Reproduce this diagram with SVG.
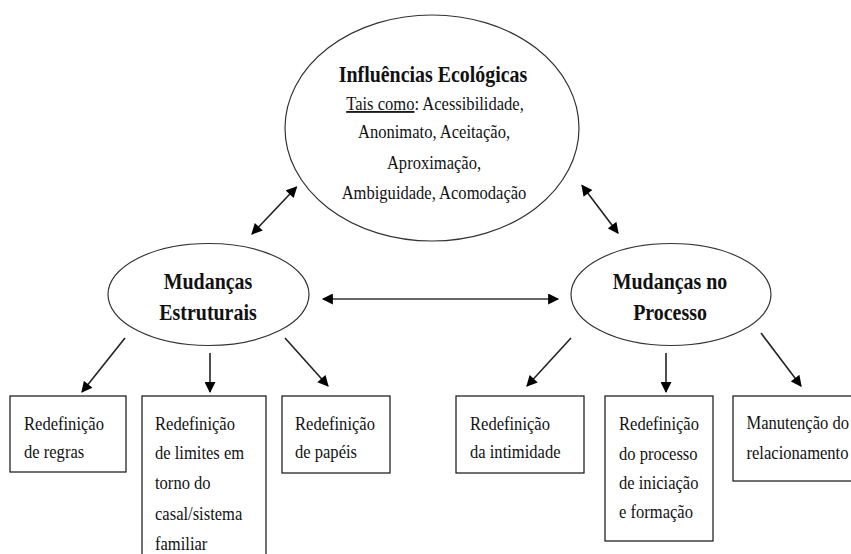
<svg xmlns="http://www.w3.org/2000/svg" width="851" height="554" viewBox="0 0 851 554">
<style>
.node ellipse{fill:#fff;stroke:#333;stroke-width:1.2}
.node rect{fill:#fff;stroke:#111;stroke-width:1.2}
text{font-family:"Liberation Serif","Times New Roman",serif;fill:#111}
.b{font-size:24px;font-weight:bold;text-anchor:middle}
.r{font-size:18px}
.c{text-anchor:middle}
.conn line{stroke:#222;stroke-width:1.6}
.conn line.h{stroke:#666;stroke-width:2.2}
</style>
<defs>
<marker id="ah" viewBox="0 0 10 10" refX="9" refY="5" markerWidth="12" markerHeight="11" markerUnits="userSpaceOnUse" orient="auto-start-reverse">
<path d="M0,0 L10,5 L0,10 z" fill="#000"/>
</marker>
</defs>
<g class="conn">
<line x1="252" y1="234" x2="296.5" y2="187" marker-start="url(#ah)" marker-end="url(#ah)"/>
<line x1="582" y1="185.5" x2="618" y2="233" marker-start="url(#ah)" marker-end="url(#ah)"/>
<line class="h" x1="323" y1="299" x2="558" y2="299" marker-start="url(#ah)" marker-end="url(#ah)"/>
<line x1="125" y1="338" x2="82" y2="392" marker-end="url(#ah)"/>
<line x1="210" y1="353" x2="210" y2="392" marker-end="url(#ah)"/>
<line x1="285" y1="338" x2="328" y2="386" marker-end="url(#ah)"/>
<line x1="571" y1="338" x2="527" y2="386" marker-end="url(#ah)"/>
<line x1="666" y1="353" x2="666" y2="392" marker-end="url(#ah)"/>
<line x1="761" y1="333" x2="801" y2="386" marker-end="url(#ah)"/>
</g>
<g id="influencias" class="node">
<ellipse cx="432" cy="128" rx="147" ry="113"/>
<text class="b" transform="translate(433,82) scale(0.83,1)">Influências Ecológicas</text>
<text class="r c" transform="translate(435,110) scale(0.92,1)"><tspan style="text-decoration:underline">Tais como</tspan>: Acessibilidade,</text>
<text class="r c" transform="translate(434,138) scale(0.92,1)">Anonimato, Aceitação,</text>
<text class="r c" transform="translate(434,169) scale(0.92,1)">Aproximação,</text>
<text class="r c" transform="translate(434,199) scale(0.92,1)">Ambiguidade, Acomodação</text>
</g>
<g id="estruturais" class="node">
<ellipse cx="208.5" cy="294.5" rx="100.5" ry="51"/>
<text class="b" transform="translate(208,289) scale(0.83,1)">Mudanças</text>
<text class="b" transform="translate(208,320) scale(0.83,1)">Estruturais</text>
</g>
<g id="processo" class="node">
<ellipse cx="671" cy="294.5" rx="100" ry="51"/>
<text class="b" transform="translate(670,289) scale(0.83,1)">Mudanças no</text>
<text class="b" transform="translate(670,320) scale(0.83,1)">Processo</text>
</g>
<g id="regras" class="node">
<rect x="10" y="396" width="116" height="76"/>
<text class="r" transform="translate(24,430) scale(0.92,1)">Redefinição</text>
<text class="r" transform="translate(24,458) scale(0.92,1)">de regras</text>
</g>
<g id="limites" class="node">
<rect x="142" y="396" width="124" height="170"/>
<text class="r" transform="translate(155,430) scale(0.92,1)">Redefinição</text>
<text class="r" transform="translate(155,459) scale(0.92,1)">de limites em</text>
<text class="r" transform="translate(155,489) scale(0.92,1)">torno do</text>
<text class="r" transform="translate(155,520) scale(0.92,1)">casal/sistema</text>
<text class="r" transform="translate(155,550) scale(0.92,1)">familiar</text>
</g>
<g id="papeis" class="node">
<rect x="282" y="396" width="108" height="77"/>
<text class="r" transform="translate(295,430) scale(0.92,1)">Redefinição</text>
<text class="r" transform="translate(295,458) scale(0.92,1)">de papéis</text>
</g>
<g id="intimidade" class="node">
<rect x="456" y="396" width="128" height="77"/>
<text class="r" transform="translate(470,430) scale(0.92,1)">Redefinição</text>
<text class="r" transform="translate(470,458) scale(0.92,1)">da intimidade</text>
</g>
<g id="iniciacao" class="node">
<rect x="605" y="396" width="108" height="145"/>
<text class="r" transform="translate(619,430) scale(0.92,1)">Redefinição</text>
<text class="r" transform="translate(619,460) scale(0.92,1)">do processo</text>
<text class="r" transform="translate(619,489) scale(0.92,1)">de iniciação</text>
<text class="r" transform="translate(619,518) scale(0.92,1)">e formação</text>
</g>
<g id="manutencao" class="node">
<rect x="733" y="396" width="125" height="85"/>
<text class="r" transform="translate(746.5,429) scale(0.92,1)">Manutenção do</text>
<text class="r" transform="translate(746.5,459) scale(0.92,1)">relacionamento</text>
</g>
</svg>
